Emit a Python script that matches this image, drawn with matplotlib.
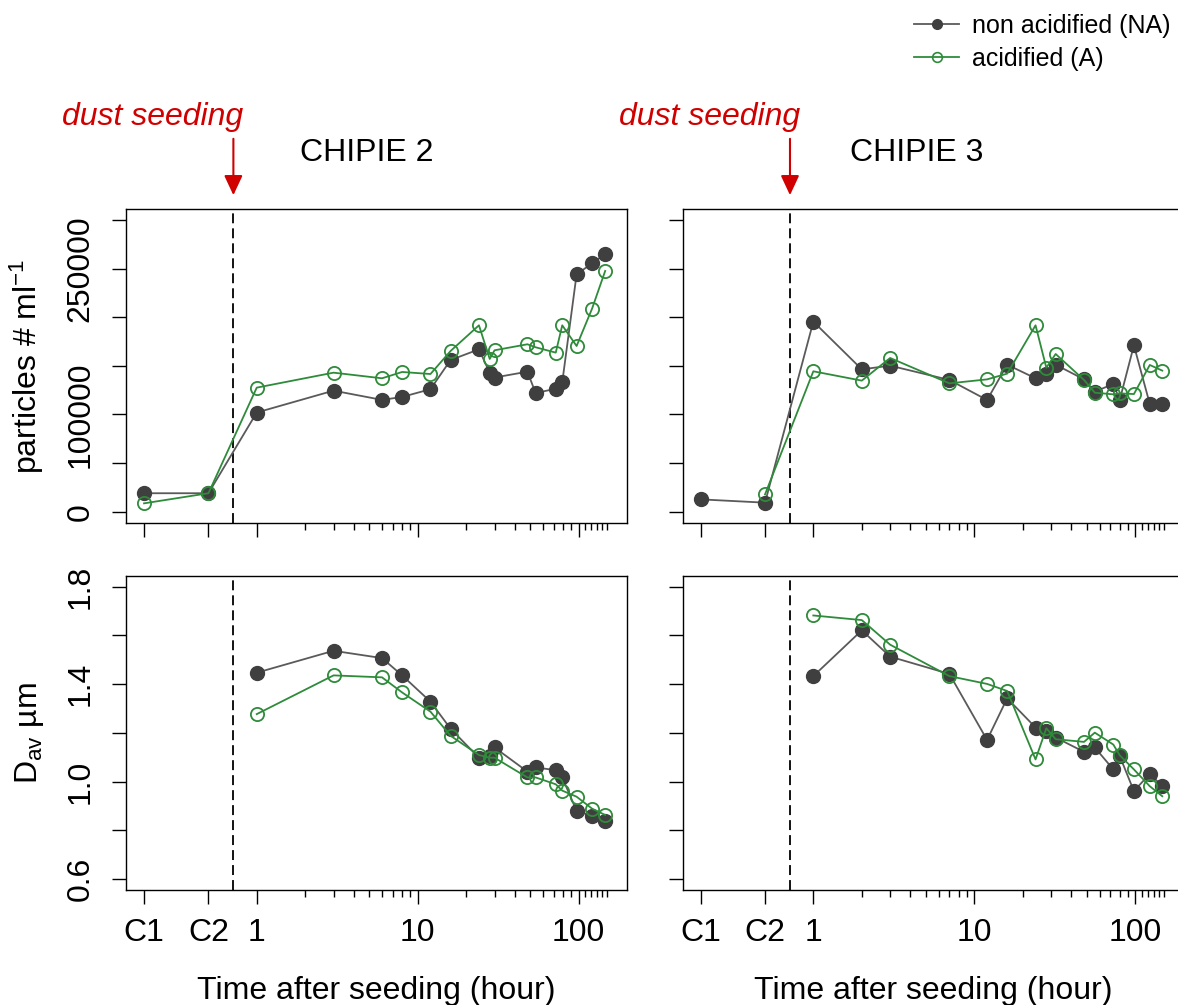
import numpy as np
import matplotlib
matplotlib.use("Agg")
import matplotlib.pyplot as plt
from matplotlib.lines import Line2D
import matplotlib.transforms as mtrans

plt.rcParams['font.family'] = ['Liberation Sans', 'DejaVu Sans']
plt.rcParams['mathtext.fontset'] = 'custom'
plt.rcParams['mathtext.rm'] = 'Liberation Sans'
plt.rcParams['mathtext.it'] = 'Liberation Sans:italic'

# ---------------- data ----------------
ctrl_labels = ["C1", "C2"]
ctrl_pos = [-0.70, -0.30]          # axis positions of the control samples
seed_pos = -0.145                  # dust seeding line position

# CHIPIE 2
c2_time = [1, 3, 6, 8, 12, 16, 24, 28, 30, 48, 54, 72, 79, 97, 121, 146]
c2_ctrl_na = [19000, 19000]
c2_ctrl_a = [8600, 19000]
c2_part_na = [102000, 124500, 115000, 118000, 126000, 156000, 167000, 143000,
              138000, 144000, 122000, 126500, 133000, 244000, 255500, 265000]
c2_part_a = [127600, 143000, 137200, 143700, 141600, 165300, 191700, 157100,
             166000, 172200, 169100, 163600, 191700, 170400, 208800, 247600]
c2_dav_na = [1.447, 1.537, 1.507, 1.436, 1.328, 1.217, 1.098, 1.105, 1.140,
             1.041, 1.058, 1.047, 1.017, 0.880, 0.859, 0.839]
c2_dav_a = [1.277, 1.436, 1.428, 1.366, 1.287, 1.188, 1.109, 1.098, 1.098,
            1.017, 1.017, 0.989, 0.963, 0.938, 0.889, 0.863]

# CHIPIE 3
c3_time = [1, 2, 3, 7, 12, 16, 24, 28, 32, 48, 56, 73, 80, 98, 123, 147]
c3_ctrl_na = [12700, 9300]
c3_ctrl_a = [np.nan, 17800]
c3_part_na = [195500, 146400, 150200, 135500, 114900, 151200, 137200, 141600,
              151200, 136100, 123500, 131300, 114900, 171100, 110800, 110800]
c3_part_a = [144400, 134800, 158100, 132000, 136100, 142000, 191700, 148100,
             162200, 135500, 122400, 120700, 121700, 121000, 150900, 145100]
c3_dav_na = [1.433, 1.621, 1.513, 1.442, 1.171, 1.342, 1.222, 1.208, 1.181,
             1.122, 1.140, 1.050, 1.105, 0.961, 1.032, 0.981]
c3_dav_a = [1.682, 1.663, 1.562, 1.433, 1.401, 1.372, 1.091, 1.219, 1.174,
            1.163, 1.201, 1.152, 1.108, 1.050, 0.981, 0.940]

major_t = [1, 10, 100]
major_labels = ["1", "10", "100"]
minor_t = [2, 3, 4, 5, 6, 7, 8, 9, 20, 30, 40, 50, 60, 70, 80, 90,
           110, 120, 130, 140, 150]
part_ticks = [0, 50000, 100000, 150000, 200000, 250000, 300000]
part_labels = ["0", "", "100000", "", "", "250000", ""]
dav_ticks = [0.6, 0.8, 1.0, 1.2, 1.4, 1.6, 1.8]
dav_labels = ["0.6", "", "1.0", "", "1.4", "", "1.8"]

# ---------------- style ----------------
FS = 23
NA_MK = '#3f3f3f'
NA_LN = '#5a5a5a'
A_COL = '#2e8b3a'
RED = '#d00000'

W, H = 1178, 1005
fig = plt.figure(figsize=(W / 100, H / 100), dpi=100)


def rect(l, t, r, b):
    return [l / W, 1 - b / H, (r - l) / W, (b - t) / H]


ax_tl = fig.add_axes(rect(126, 209.3, 626.7, 522.7))
ax_tr = fig.add_axes(rect(682.6, 209.3, 1183.3, 522.7))
ax_bl = fig.add_axes(rect(126, 576, 626.7, 890))
ax_br = fig.add_axes(rect(682.6, 576, 1183.3, 890))


def style_axes(ax, bottom_labels):
    ax.set_xlim(-0.812, 2.298)
    xt = list(ctrl_pos) + list(np.log10(major_t))
    ax.set_xticks(xt)
    if bottom_labels:
        ax.set_xticklabels(ctrl_labels + major_labels, fontsize=FS)
    else:
        ax.set_xticklabels([""] * len(xt))
    ax.set_xticks(np.log10(minor_t), minor=True)
    ax.tick_params(axis='x', which='major', direction='out', length=10,
                   width=1.0, pad=10, top=False)
    ax.tick_params(axis='x', which='minor', direction='out', length=5,
                   width=1.0, top=False)
    ax.tick_params(axis='y', which='major', direction='out', length=10,
                   width=1.0, pad=12, right=False)
    for s in ax.spines.values():
        s.set_linewidth(1.0)
        s.set_color('black')
    ax.axvline(seed_pos, color='black', lw=1.3, dashes=(5.5, 2.8), zorder=1)


def plot_series(ax, xs, ys_na, ys_a):
    ax.plot(xs, ys_na, '-', color=NA_LN, lw=1.3, marker='o', ms=10,
            mfc=NA_MK, mec=NA_MK, zorder=3)
    ax.plot(xs, ys_a, '-', color=A_COL, lw=1.3, marker='o', ms=9.5,
            mfc='none', mec=A_COL, mew=1.3, zorder=4)


# top panels: particles
for ax, t, cna, ca, pna, pa, with_labels in [
        (ax_tl, c2_time, c2_ctrl_na, c2_ctrl_a, c2_part_na, c2_part_a, True),
        (ax_tr, c3_time, c3_ctrl_na, c3_ctrl_a, c3_part_na, c3_part_a, False)]:
    style_axes(ax, False)
    xs = list(ctrl_pos) + list(np.log10(t))
    plot_series(ax, xs, list(cna) + list(pna), list(ca) + list(pa))
    ax.set_ylim(-11300, 311000)
    ax.set_yticks(part_ticks)
    if with_labels:
        ax.set_yticklabels(part_labels, fontsize=FS, rotation=90, va='center')
    else:
        ax.set_yticklabels([""] * len(part_ticks))

# bottom panels: Dav
for ax, t, dna, da, with_labels in [
        (ax_bl, c2_time, c2_dav_na, c2_dav_a, True),
        (ax_br, c3_time, c3_dav_na, c3_dav_a, False)]:
    style_axes(ax, True)
    xs = list(np.log10(t))
    plot_series(ax, xs, dna, da)
    ax.set_ylim(0.555, 1.844)
    ax.set_yticks(dav_ticks)
    if with_labels:
        ax.set_yticklabels(dav_labels, fontsize=FS, rotation=90, va='center')
    else:
        ax.set_yticklabels([""] * len(dav_ticks))
    ax.set_xlabel("Time after seeding (hour)", fontsize=FS, labelpad=20)

ax_tl.set_ylabel("particles # ml$^{\\mathregular{-1}}$", fontsize=FS, labelpad=14)
ax_bl.set_ylabel("D$_{\\mathrm{av}}$ µm", fontsize=FS, labelpad=14)

# annotations
for ax, title, tx in [(ax_tl, "CHIPIE 2", 0.481), (ax_tr, "CHIPIE 3", 0.468)]:
    trans = mtrans.blended_transform_factory(ax.transData, ax.transAxes)
    ax.annotate('', xy=(seed_pos, 1.045), xytext=(seed_pos, 1.225),
                xycoords=trans, textcoords=trans, annotation_clip=False,
                arrowprops=dict(arrowstyle='-|>,head_length=0.6,head_width=0.28',
                                color=RED, lw=1.5, mutation_scale=20,
                                shrinkA=0, shrinkB=0))
    ax.text(-0.645, 1.295, "dust seeding", transform=trans, ha='center',
            va='center', style='italic', color=RED, fontsize=FS)
    ax.text(tx, 1.18, title, transform=ax.transAxes, ha='center',
            va='center', fontsize=FS)

# legend
handles = [Line2D([], [], color=NA_LN, lw=1.3, marker='o', ms=7,
                  mfc=NA_MK, mec=NA_MK),
           Line2D([], [], color=A_COL, lw=1.3, marker='o', ms=7,
                  mfc='none', mec=A_COL, mew=1.2)]
fig.legend(handles, ["non acidified (NA)", "acidified (A)"],
           loc='upper left', bbox_to_anchor=(914 / W, 1 - 14 / H),
           frameon=False, fontsize=18, handlelength=1.8, handletextpad=0.5,
           labelspacing=0.35, borderaxespad=0, borderpad=0)

fig.savefig("out.png", dpi=100)
